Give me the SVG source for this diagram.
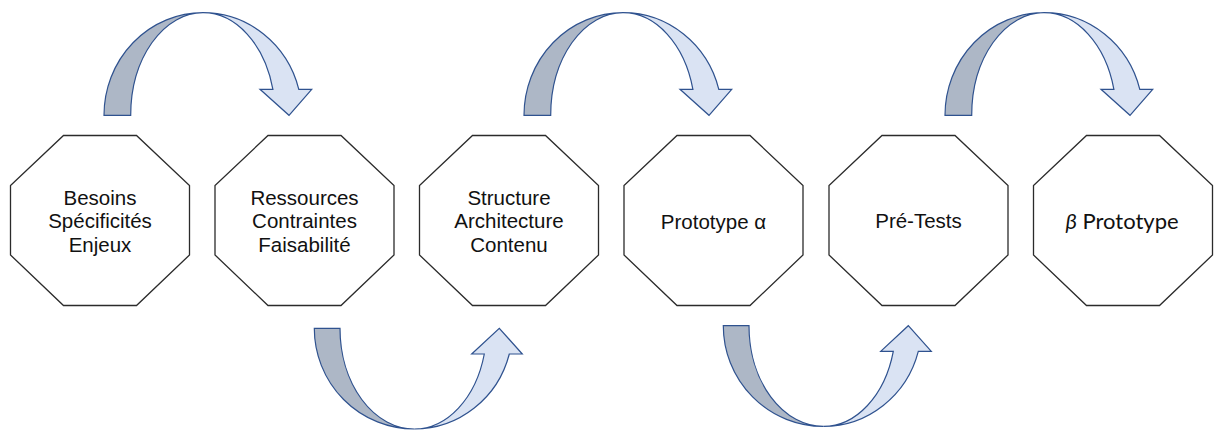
<svg xmlns="http://www.w3.org/2000/svg" width="1214" height="433" viewBox="0 0 1214 433">
<style>
.oct{fill:#ffffff;stroke:#2b2b2b;stroke-width:1.3;stroke-linejoin:miter}
.t{font-family:"Liberation Sans",Arial,Helvetica,sans-serif;font-size:20.5px;fill:#111111;text-anchor:middle}
.tc{font-family:Lato,"Open Sans",sans-serif;font-size:22px;fill:#111111;text-anchor:middle}
.back{fill:#adb7c6;stroke:#2f528f;stroke-width:1.2;stroke-linejoin:miter}
.front{fill:#dae3f3;stroke:#2f528f;stroke-width:1.2;stroke-linejoin:miter}
</style>
<defs>
<polygon id="octShape" points="53,0 126,0 179,50 179,119.5 126,170 53,170 0,119.5 0,50"/>
<g id="topArrow">
<path class="back" d="M104,115.3 A99 102.6 0 0 1 203,12.7 A72.3 102.6 0 0 0 130.7,115.3 Z"/>
<path class="front" d="M203,12.7 A99 102.6 0 0 1 298.8,89.3 L311.7,89.3 L289,115.3 L260,89.3 L272.9,89.3 A72.3 102.6 0 0 0 203,12.7 Z"/>
</g>
<g id="bottomArrow">
<path class="back" d="M314.3,328.3 A100 100.7 0 0 0 414.3,429 A74.3 100.7 0 0 1 340,328.3 Z"/>
<path class="front" d="M414.3,429 A98.3 100.7 0 0 0 509.3,354 L522.3,354 L499.3,328.3 L471.7,354 L484.3,354 A72.4 100.7 0 0 1 414.3,429 Z"/>
</g>
</defs>
<rect x="0" y="0" width="1214" height="433" fill="#ffffff"/>
<g id="connectors">
<use href="#topArrow"/>
<use href="#topArrow" transform="translate(420,0)"/>
<use href="#topArrow" transform="translate(841,0)"/>
<use href="#bottomArrow"/>
<use href="#bottomArrow" transform="translate(409,-2.6)"/>
</g>
<g id="node1">
<use href="#octShape" class="oct" transform="translate(10.5,135.5)"/>
<text class="t" x="100" y="205">Besoins</text>
<text class="t" x="100" y="228.3">Spécificités</text>
<text class="t" x="100" y="251.7">Enjeux</text>
</g>
<g id="node2">
<use href="#octShape" class="oct" transform="translate(215,135.5)"/>
<text class="t" x="304.5" y="205">Ressources</text>
<text class="t" x="304.5" y="228.3">Contraintes</text>
<text class="t" x="304.5" y="251.7">Faisabilité</text>
</g>
<g id="node3">
<use href="#octShape" class="oct" transform="translate(419.5,135.5)"/>
<text class="t" x="509" y="205">Structure</text>
<text class="t" x="509" y="228.3">Architecture</text>
<text class="t" x="509" y="251.7">Contenu</text>
</g>
<g id="node4">
<use href="#octShape" class="oct" transform="translate(624,135.5)"/>
<text class="t" x="713.5" y="229">Prototype α</text>
</g>
<g id="node5">
<use href="#octShape" class="oct" transform="translate(829,135.5)"/>
<text class="t" x="918.5" y="228.3">Pré-Tests</text>
</g>
<g id="node6">
<use href="#octShape" class="oct" transform="translate(1033.5,135.5)"/>
<text class="tc" x="1122" y="229.3"><tspan font-style="italic">β</tspan> Prototype</text>
</g>
</svg>
